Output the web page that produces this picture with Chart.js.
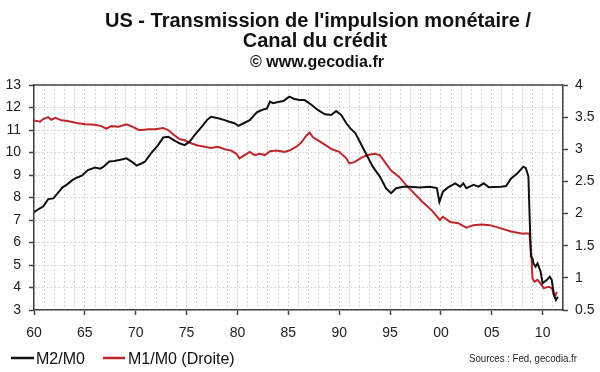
<!DOCTYPE html>
<html>
<head>
<meta charset="utf-8">
<script src="https://cdn.jsdelivr.net/npm/chart.js@4"></script>
<style>
  html, body { margin: 0; padding: 0; background: #fff; }
  #wrap { width: 600px; height: 372px; }
</style>
</head>
<body>
<div id="wrap"><canvas id="chart" width="600" height="372"></canvas></div>
<script>
// M2/M0 (axe de gauche)
const m2Years = [1960.0, 1960.5, 1960.9, 1961.4, 1961.9, 1962.4, 1962.8, 1963.2, 1963.8, 1964.2,
  1964.7, 1965.3, 1966.0, 1966.5, 1966.8, 1967.4, 1967.9, 1968.5, 1969.1, 1969.7,
  1970.1, 1970.5, 1970.9, 1971.5, 1972.2, 1972.7, 1973.2, 1973.7, 1974.3, 1974.8,
  1975.3, 1975.8, 1976.5, 1977.0, 1977.4, 1978.1, 1978.75, 1979.2, 1979.7, 1980.1,
  1980.6, 1981.2, 1981.9, 1982.4, 1982.9, 1983.2, 1983.5, 1984.0, 1984.5, 1985.1,
  1985.6, 1986.1, 1986.6, 1987.3, 1987.9, 1988.6, 1989.2, 1989.7, 1990.2, 1990.7,
  1991.1, 1991.6, 1992.1, 1992.7, 1993.3, 1994.0, 1994.6, 1995.1, 1995.6, 1996.3,
  1996.9, 1997.9, 1998.9, 1999.6, 1999.85, 2000.2, 2000.7, 2001.4, 2001.9, 2002.2,
  2002.5, 2003.2, 2003.7, 2004.2, 2004.7, 2005.9, 2006.4, 2006.9, 2007.5, 2008.1,
  2008.35, 2008.6, 2008.7, 2008.85, 2009.0, 2009.1, 2009.3, 2009.5, 2009.8, 2010.0,
  2010.4, 2010.7, 2010.9, 2011.1, 2011.3, 2011.5];
const m2Values = [7.35, 7.5, 7.6, 7.93, 7.96, 8.23, 8.45, 8.56, 8.78, 8.88,
  8.97, 9.22, 9.33, 9.28, 9.36, 9.6, 9.62, 9.68, 9.74, 9.56,
  9.42, 9.5, 9.59, 9.96, 10.33, 10.67, 10.7, 10.56, 10.41, 10.33,
  10.48, 10.78, 11.15, 11.44, 11.59, 11.52, 11.44, 11.37, 11.3, 11.18,
  11.3, 11.44, 11.79, 11.89, 11.96, 12.26, 12.19, 12.24, 12.29, 12.48,
  12.38, 12.33, 12.33, 12.11, 11.89, 11.7, 11.67, 11.84, 11.67, 11.3,
  11.07, 10.85, 10.41, 9.89, 9.37, 8.93, 8.41, 8.19, 8.41, 8.48,
  8.48, 8.45, 8.48, 8.42, 7.81, 8.26, 8.45, 8.63, 8.48, 8.63,
  8.41, 8.56, 8.48, 8.63, 8.46, 8.48, 8.51, 8.85, 9.07, 9.37,
  9.3, 8.93, 7.44, 5.37, 5.3, 5.07, 4.93, 5.07, 4.7, 4.19,
  4.33, 4.48, 4.33, 3.67, 3.44, 3.59];

// M1/M0 (axe de droite)
const m1Years = [1960.0, 1960.6, 1960.9, 1961.4, 1961.7, 1962.1, 1962.7, 1963.3, 1964.2, 1965.0,
  1966.0, 1966.6, 1967.1, 1967.6, 1968.3, 1969.1, 1969.7, 1970.3, 1970.6, 1971.2,
  1971.9, 1972.7, 1973.2, 1973.7, 1974.3, 1974.8, 1975.5, 1976.1, 1976.8, 1977.4,
  1978.1, 1978.75, 1979.4, 1979.9, 1980.2, 1980.7, 1981.2, 1981.7, 1982.2, 1982.7,
  1983.2, 1983.8, 1984.6, 1985.1, 1985.8, 1986.3, 1986.8, 1987.1, 1987.4, 1988.0,
  1988.7, 1989.3, 1990.0, 1990.7, 1991.0, 1991.5, 1992.2, 1992.8, 1993.5, 1994.0,
  1994.5, 1995.1, 1995.9, 1996.6, 1997.4, 1998.2, 1999.1, 1999.9, 2000.2, 2000.9,
  2001.7, 2002.5, 2003.2, 2004.0, 2004.8, 2005.9, 2006.9, 2007.9, 2008.7, 2008.9,
  2009.0, 2009.2, 2009.5, 2009.8, 2010.1, 2010.6, 2010.9, 2011.2, 2011.4];
const m1Values = [3.45, 3.43, 3.47, 3.5, 3.46, 3.49, 3.45, 3.44, 3.41, 3.39,
  3.38, 3.36, 3.32, 3.36, 3.35, 3.39, 3.35, 3.3, 3.3, 3.31,
  3.31, 3.33, 3.3, 3.23, 3.16, 3.14, 3.09, 3.06, 3.04, 3.02,
  3.04, 3.0, 2.98, 2.93, 2.86, 2.91, 2.96, 2.91, 2.93, 2.91,
  2.97, 2.98, 2.96, 2.98, 3.04, 3.11, 3.22, 3.26, 3.19, 3.13,
  3.06, 3.0, 2.96, 2.86, 2.78, 2.8, 2.87, 2.91, 2.93, 2.91,
  2.8, 2.67, 2.57, 2.44, 2.31, 2.18, 2.05, 1.9, 1.95, 1.87,
  1.85, 1.78, 1.82, 1.83, 1.82, 1.77, 1.72, 1.69, 1.69, 1.33,
  0.99, 0.94, 0.97, 0.91, 0.84, 0.86, 0.84, 0.71, 0.78];

const titleLines = ["US - Transmission de l'impulsion monétaire /", "Canal du crédit", "© www.gecodia.fr"];
const seriesNames = ["M2/M0", "M1/M0 (Droite)"];
const sourceText = "Sources : Fed, gecodia.fr";

const FONT = '"Liberation Sans", Arial, sans-serif';
const BLACK = "#111111";
const RED = "#c0272d";
const GRID = "#d6d6d6";

const toPoints = (xs, ys) => xs.map((x, i) => ({ x: x, y: ys[i] }));

// titre, cadre du haut, légende et source
const decor = {
  id: "decor",
  afterDraw(chart) {
    const ctx = chart.ctx;
    const area = chart.chartArea;
    ctx.save();
    ctx.strokeStyle = "#444";
    ctx.lineWidth = 1.5;
    ctx.beginPath();
    ctx.moveTo(area.left, area.top);
    ctx.lineTo(area.right, area.top);
    ctx.stroke();

    ctx.fillStyle = "#111";
    ctx.textAlign = "center";
    ctx.textBaseline = "alphabetic";
    ctx.font = "bold 20px " + FONT;
    ctx.fillText(titleLines[0], 318, 27);
    ctx.fillText(titleLines[1], 315, 47);
    ctx.font = "bold 16px " + FONT;
    ctx.fillText(titleLines[2], 317, 67);

    ctx.lineWidth = 2.5;
    ctx.strokeStyle = BLACK;
    ctx.beginPath(); ctx.moveTo(11, 358); ctx.lineTo(34, 358); ctx.stroke();
    ctx.strokeStyle = RED;
    ctx.beginPath(); ctx.moveTo(103, 358); ctx.lineTo(125, 358); ctx.stroke();
    ctx.textAlign = "left";
    ctx.font = "16px " + FONT;
    ctx.fillStyle = "#111";
    ctx.fillText(seriesNames[0], 36, 364);
    ctx.fillText(seriesNames[1], 128, 364);

    ctx.font = "11px " + FONT;
    ctx.textAlign = "right";
    ctx.fillStyle = "#222";
    ctx.fillText(sourceText, 577, 362, 108);
    ctx.restore();
  }
};

new Chart(document.getElementById("chart"), {
  type: "line",
  data: {
    datasets: [{
      label: seriesNames[0],
      data: toPoints(m2Years, m2Values),
      yAxisID: "y",
      borderColor: BLACK,
      borderWidth: 2,
      pointRadius: 0,
      tension: 0
    }, {
      label: seriesNames[1],
      data: toPoints(m1Years, m1Values),
      yAxisID: "y1",
      borderColor: RED,
      borderWidth: 2,
      pointRadius: 0,
      tension: 0
    }]
  },
  options: {
    responsive: false,
    animation: false,
    layout: { padding: { top: 85, left: 0, right: 0, bottom: 0 } },
    plugins: {
      legend: { display: false },
      title: { display: false },
      tooltip: { enabled: false }
    },
    scales: {
      x: {
        type: "linear",
        min: 1960,
        max: 2012,
        afterFit: (s) => { s.height = 62; },
        ticks: {
          stepSize: 1,
          autoSkip: false,
          maxRotation: 0,
          padding: 10,
          color: "#222",
          font: { family: FONT, size: 14 },
          callback: (v) => v % 5 === 0 ? String(v % 100).padStart(2, "0") : ""
        },
        grid: {
          color: GRID,
          lineWidth: 1,
          tickLength: 5,
          tickColor: (c) => (c.tick && c.tick.value % 5 === 0) ? "#444" : "rgba(0,0,0,0)",
          tickWidth: 1.5
        },
        border: { color: "#444", width: 1.5, dash: [2, 2] }
      },
      y: {
        position: "left",
        min: 3,
        max: 13,
        afterFit: (s) => { s.width = 34; },
        ticks: {
          stepSize: 1,
          padding: 8,
          color: "#222",
          font: { family: FONT, size: 14 }
        },
        grid: {
          color: GRID,
          lineWidth: 1,
          tickLength: 5,
          tickColor: "#444",
          tickWidth: 1.5
        },
        border: { color: "#444", width: 1.5, dash: [2, 2] }
      },
      y1: {
        position: "right",
        min: 0.5,
        max: 4,
        afterFit: (s) => { s.width = 37; },
        ticks: {
          stepSize: 0.5,
          padding: 7,
          color: "#222",
          font: { family: FONT, size: 14 },
          callback: (v) => String(v)
        },
        grid: {
          drawOnChartArea: false,
          tickLength: 5,
          tickColor: "#444",
          tickWidth: 1.5
        },
        border: { color: "#444", width: 1.5 }
      }
    }
  },
  plugins: [decor]
});
</script>
</body>
</html>
